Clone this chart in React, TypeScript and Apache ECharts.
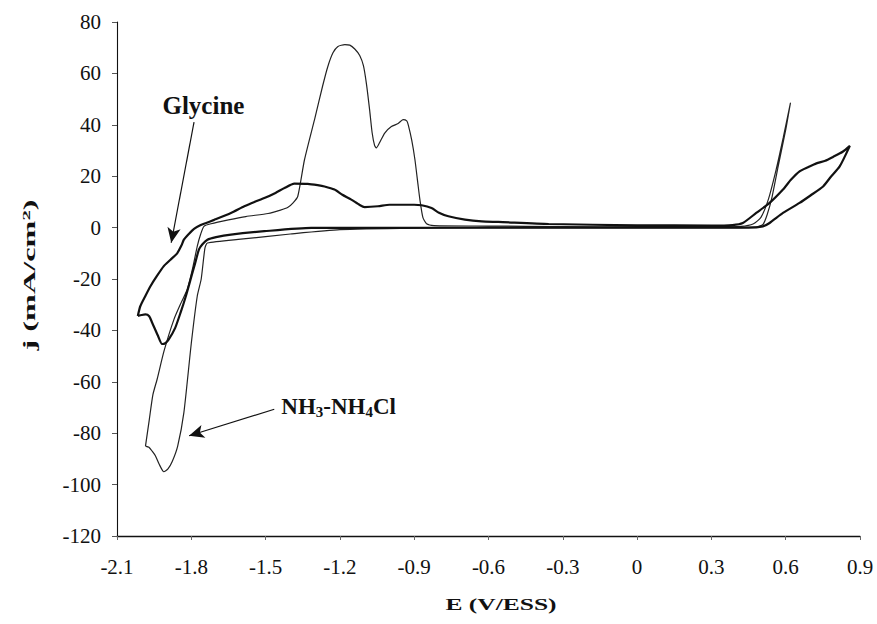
import React, { useEffect, useRef } from "react";
import * as echarts from "echarts";

// ---- Data ----
// NH3-NH4Cl (thin curve): potential E (V/ESS) and current density j (mA/cm2)
const ammoniaE = [
  -1.985, -1.97, -1.955, -1.938, -1.91, -1.87, -1.84, -1.816, -1.795, -1.776, -1.762, -1.749,
  -1.72, -1.65, -1.58, -1.49, -1.44, -1.411, -1.39, -1.37, -1.343, -1.3, -1.27, -1.249, -1.228,
  -1.208, -1.18, -1.16, -1.14, -1.12, -1.105, -1.093, -1.08, -1.07, -1.06, -1.053, -1.04, -1.019,
  -0.992, -0.965, -0.945, -0.93, -0.924, -0.91, -0.897, -0.885, -0.877, -0.865, -0.85, -0.82,
  -0.6, -0.3, 0, 0.3, 0.42, 0.47, 0.5, 0.53, 0.56, 0.59, 0.619,
  0.6, 0.57, 0.545, 0.525, 0.508, 0.48, 0.3, 0, -0.6, -0.9, -1.2, -1.4, -1.6, -1.735, -1.745,
  -1.76, -1.776, -1.8, -1.83, -1.855, -1.877, -1.895, -1.911, -1.93, -1.945, -1.958, -1.971, -1.985,
];
const ammoniaJ = [
  -85, -75, -65, -59, -48, -35.7, -29, -24, -16, -7.3, -2.5, 0.5,
  1.5, 3, 4.3, 5.5, 6.8, 7.8, 9.5, 12.2, 26.4, 43, 55, 62.6, 68,
  70.5, 71.2, 71, 69.5, 67, 63, 56, 45.8, 37, 32, 31, 33, 36.8,
  39.3, 40.5, 42, 41.5, 40, 34, 26.4, 17, 10.9, 4, 1.5, 0.8,
  0.6, 0.4, 0.3, 0.3, 0.5, 1.5, 4, 11, 22, 35, 48.4,
  38, 24, 12, 5, 1.2, 0.2, 0, 0, 0, -0.2, -0.8, -2.5, -4.5, -6, -8,
  -20, -26.7, -45, -72, -85, -91, -94, -95, -92, -88.8, -87, -85.5, -85,
];

// Glycine (thick curve)
const glycineE = [
  -2.016, -2.006, -1.985, -1.965, -1.94, -1.911, -1.884, -1.857, -1.84, -1.83, -1.81, -1.789,
  -1.762, -1.74, -1.708, -1.64, -1.586, -1.545, -1.505, -1.46, -1.424, -1.384, -1.33, -1.29,
  -1.262, -1.222, -1.19, -1.154, -1.12, -1.1, -1.046, -1, -0.965, -0.9, -0.87, -0.83, -0.8,
  -0.762, -0.695, -0.627, -0.56, -0.357, 0, 0.3, 0.385, 0.427, 0.481, 0.535, 0.589, 0.62,
  0.656, 0.69, 0.724, 0.76, 0.791, 0.83, 0.859,
  0.818, 0.78, 0.751, 0.7, 0.656, 0.589, 0.535, 0.508, 0.45, 0, -0.6, -1.0, -1.316, -1.505,
  -1.64, -1.7, -1.735, -1.755, -1.769, -1.785, -1.803, -1.823, -1.843, -1.865, -1.891, -1.905,
  -1.918, -1.935, -1.958, -1.97, -1.985, -2.0, -2.016,
];
const glycineJ = [
  -34.4, -30.6, -26.5, -22.8, -19, -15, -12.5, -10, -7, -4.7, -2.5, -0.5,
  1, 1.8, 3, 5.7, 8.3, 10, 11.5, 13.5, 15.4, 17.1, 17, 16.5,
  16, 14.8, 12.8, 10.9, 8.8, 8, 8.3, 8.9, 8.9, 8.9, 8.7, 7.6, 5.8,
  4.4, 3.1, 2.4, 2.2, 1.4, 0.9, 0.8, 1, 1.8, 5.7, 9.6, 14.8, 18.5,
  21.9, 23.5, 25, 26, 27.5, 29.5, 31.8,
  23.8, 19.5, 16, 12.5, 9.6, 5.7, 1.8, 0.5, 0, 0, 0, -0.1, -0.1, -1.4,
  -2.7, -3.7, -4.7, -6.5, -8.5, -14, -20.2, -27, -33, -39, -43.5, -45,
  -45.3, -42, -37, -34.5, -33.8, -34, -34.4,
];

// Annotations (data coordinates)
const glycineLabelAt = [-1.751, 47.5];
const glycineArrow = [[-1.789, 41.0], [-1.881, -5.9]];
const ammoniaLabelAt = [-1.205, -69.5];
const ammoniaArrow = [[-1.465, -70.7], [-1.809, -81]];

// Axis settings
const xMin = -2.1, xMax = 0.9, xStep = 0.3;
const yMin = -120, yMax = 80, yStep = 20;

const zip = (a: number[], b: number[]) => a.map((v, i) => [v, b[i]]);

const SERIF = "Liberation Serif";

export default function App() {
  const ref = useRef<HTMLDivElement>(null);
  useEffect(() => {
    if (!ref.current) return;
    const chart = echarts.init(ref.current, undefined, { renderer: "svg" });
    const fmtX = (v: number) => {
      const r = Math.round(v * 10) / 10;
      return r === 0 ? "0" : r.toFixed(1);
    };
    chart.setOption({
      animation: false,
      backgroundColor: "#fff",
      textStyle: { fontFamily: SERIF },
      grid: { left: 117, right: 17, top: 22, bottom: 88, containLabel: false },
      xAxis: {
        type: "value",
        min: xMin,
        max: xMax,
        interval: xStep,
        axisLine: { show: true, onZero: false, lineStyle: { color: "#111", width: 1.4 } },
        axisTick: { show: true, length: 4, lineStyle: { color: "#666", width: 1 } },
        splitLine: { show: false },
        axisLabel: { color: "#111", fontFamily: SERIF, fontSize: 21, margin: 20, formatter: fmtX },
      },
      yAxis: {
        type: "value",
        min: yMin,
        max: yMax,
        interval: yStep,
        axisLine: { show: true, onZero: false, lineStyle: { color: "#111", width: 1.1 } },
        axisTick: { show: true, length: 5, lineStyle: { color: "#555", width: 1 } },
        splitLine: { show: false },
        axisLabel: { color: "#111", fontFamily: SERIF, fontSize: 21, margin: 16 },
      },
      graphic: [
        {
          type: "text",
          x: 29,
          y: 275,
          rotation: Math.PI / 2,
          scaleX: 1.9,
          style: {
            text: "j (mA/cm{sup|2})",
            font: "bold 17px Liberation Serif",
            fill: "#111",
            align: "center",
            verticalAlign: "middle",
            rich: {
              sup: { font: "bold 11px Liberation Serif", lineHeight: 11, verticalAlign: "top", fill: "#111" },
            },
          },
        },
        {
          type: "text",
          x: 501,
          y: 605,
          scaleX: 1.5,
          style: {
            text: "E (V/ESS)",
            font: "bold 17px Liberation Serif",
            fill: "#111",
            align: "center",
            verticalAlign: "middle",
          },
        },
      ],
      series: [
        {
          name: "NH3-NH4Cl",
          type: "line",
          data: zip(ammoniaE, ammoniaJ),
          showSymbol: false,
          smooth: 0.2,
          silent: true,
          lineStyle: { color: "#222", width: 1.2 },
          markPoint: {
            silent: true,
            symbol: "circle",
            symbolSize: 1,
            itemStyle: { color: "rgba(0,0,0,0)" },
            data: [{ coord: ammoniaLabelAt }],
            label: {
              show: true,
              position: "inside",
              formatter: "NH{sub|3}-NH{sub|4}Cl",
              fontFamily: SERIF,
              fontWeight: "bold",
              fontSize: 23,
              lineHeight: 26,
              color: "#111",
              rich: {
                sub: { fontFamily: SERIF, fontWeight: "bold", fontSize: 15, lineHeight: 15, verticalAlign: "bottom", color: "#111" },
              },
            },
          },
          markLine: {
            silent: true,
            symbol: ["none", "arrow"],
            symbolSize: [10, 15],
            label: { show: false },
            lineStyle: { color: "#111", width: 1.2, type: "solid" },
            data: [[{ coord: ammoniaArrow[0] }, { coord: ammoniaArrow[1] }]],
          },
        },
        {
          name: "Glycine",
          type: "line",
          data: zip(glycineE, glycineJ),
          showSymbol: false,
          smooth: 0.2,
          silent: true,
          lineStyle: { color: "#111", width: 2.2 },
          markPoint: {
            silent: true,
            symbol: "circle",
            symbolSize: 1,
            itemStyle: { color: "rgba(0,0,0,0)" },
            data: [{ coord: glycineLabelAt }],
            label: {
              show: true,
              position: "inside",
              formatter: "Glycine",
              fontFamily: SERIF,
              fontWeight: "bold",
              fontSize: 25,
              color: "#111",
            },
          },
          markLine: {
            silent: true,
            symbol: ["none", "arrow"],
            symbolSize: [10, 15],
            label: { show: false },
            lineStyle: { color: "#111", width: 1.2, type: "solid" },
            data: [[{ coord: glycineArrow[0] }, { coord: glycineArrow[1] }]],
          },
        },
      ],
    });
    return () => chart.dispose();
  }, []);
  return <div ref={ref} style={{ width: 877, height: 624, position: "absolute", left: 0, top: 0 }} />;
}
